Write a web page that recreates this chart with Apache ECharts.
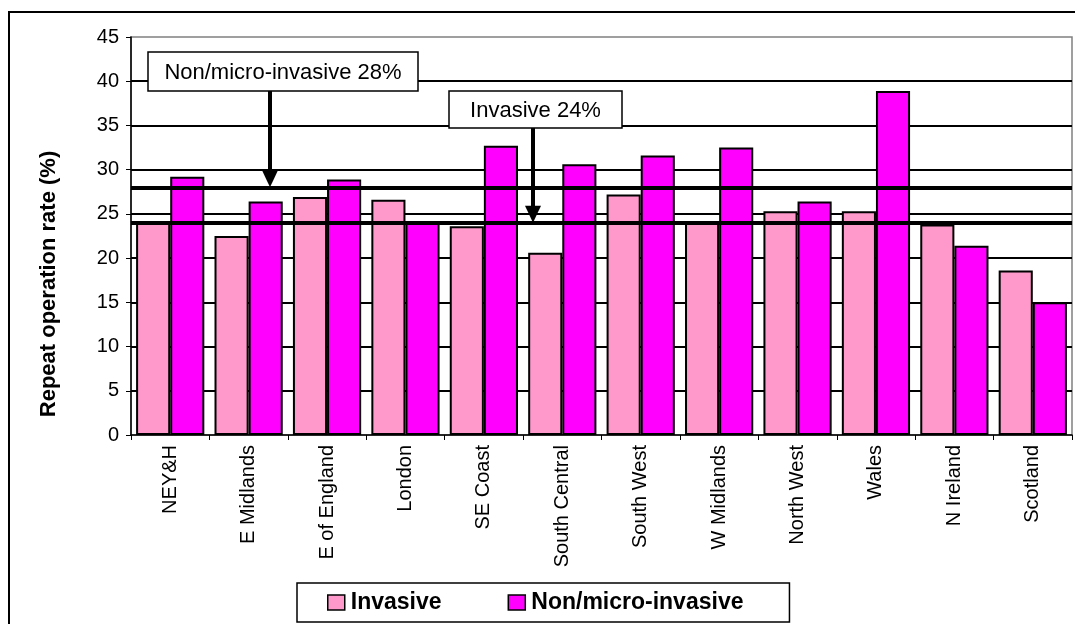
<!DOCTYPE html>
<html>
<head>
<meta charset="utf-8">
<title>Repeat operation rate by region</title>
<script src="https://cdn.jsdelivr.net/npm/echarts@6/dist/echarts.min.js"></script>
<style>
  html, body { margin: 0; padding: 0; background: #fff; }
  #chart { width: 1075px; height: 624px; }
</style>
</head>
<body>
<div id="chart"></div>
<script>
// Regions (category axis)
const categories = ['NEY&H', 'E Midlands', 'E of England', 'London', 'SE Coast', 'South Central',
  'South West', 'W Midlands', 'North West', 'Wales', 'N Ireland', 'Scotland'];

// Repeat operation rate (%) per region
const invasive = [24.0, 22.5, 26.9, 26.6, 23.6, 20.6, 27.2, 24.0, 25.3, 25.3, 23.8, 18.6];
const nonMicroInvasive = [29.2, 26.4, 28.9, 24.0, 32.7, 30.6, 31.6, 32.5, 26.4, 38.9, 21.4, 15.0];

// Overall rates drawn as reference lines
const overallNames = ['Non/micro-invasive', 'Invasive'];
const overallRates = [28, 24];

// Value axis ticks
const yMin = 0, yMax = 45, yStep = 5;

const FONT = '"Liberation Sans", Arial, sans-serif';
const PINK = '#FF99CC';
const MAGENTA = '#FF00FF';

const chart = echarts.init(document.getElementById('chart'), null, { renderer: 'canvas' });

chart.setOption({
  animation: false,
  backgroundColor: '#fff',
  textStyle: { fontFamily: FONT, color: '#000' },
  grid: {
    left: 131, right: 3, top: 37, bottom: 189,
    outerBoundsMode: 'none',
    show: true, borderColor: '#808080', borderWidth: 1.5, backgroundColor: 'transparent'
  },
  legend: {
    data: ['Invasive', 'Non/micro-invasive'],
    left: 297, top: 583,
    orient: 'horizontal',
    padding: [8, 46, 8, 30],
    itemGap: 66,
    itemWidth: 17, itemHeight: 15,
    icon: 'rect',
    borderColor: '#000', borderWidth: 1.5,
    backgroundColor: '#fff',
    itemStyle: { borderColor: '#000', borderWidth: 1.5 },
    textStyle: { fontFamily: FONT, fontSize: 23, fontWeight: 'bold', color: '#000', padding: [0, 0, 0, 1] }
  },
  xAxis: {
    type: 'category',
    data: categories,
    axisLine: { show: true, lineStyle: { color: '#000', width: 1.5 } },
    axisTick: { show: true, alignWithLabel: false, length: 5, lineStyle: { color: '#000', width: 1 } },
    axisLabel: { rotate: 90, margin: 10, fontFamily: FONT, fontSize: 20, color: '#000', interval: 0 },
    splitLine: { show: false }
  },
  yAxis: {
    type: 'value',
    min: yMin, max: yMax, interval: yStep,
    axisLine: { show: true, lineStyle: { color: '#000', width: 1.5 } },
    axisTick: { show: true, length: 5, lineStyle: { color: '#000', width: 1 } },
    axisLabel: { margin: 12, fontFamily: FONT, fontSize: 20, color: '#000' },
    splitLine: { show: true, showMinLine: false, showMaxLine: false, lineStyle: { color: '#000', width: 2 } }
  },
  series: [
    {
      name: 'Invasive',
      type: 'bar',
      data: invasive,
      barGap: '0%',
      barCategoryGap: '13%',
      itemStyle: { color: PINK, borderColor: '#000', borderWidth: 2 }
    },
    {
      name: 'Non/micro-invasive',
      type: 'bar',
      data: nonMicroInvasive,
      barGap: '0%',
      barCategoryGap: '13%',
      itemStyle: { color: MAGENTA, borderColor: '#000', borderWidth: 2 }
    },
    {
      // carries the overall-rate reference lines above the bars
      name: 'overall',
      type: 'line',
      data: [],
      z: 5,
      silent: true,
      markLine: {
        silent: true,
        symbol: 'none',
        label: { show: false },
        lineStyle: { color: '#000', width: 4, type: 'solid' },
        data: overallRates.map(v => ({ yAxis: v }))
      }
    }
  ]
});

// Annotation boxes with arrows pointing at the reference lines
const boxes = [
  { x: 148, y: 52, w: 270, h: 39, arrowX: 270 },
  { x: 449, y: 91, w: 173, h: 37, arrowX: 533 }
];

const graphics = [
  {
    type: 'rect', silent: true, z: 0,
    shape: { x: 9, y: 12, width: 1100, height: 700 },
    style: { fill: 'none', stroke: '#000', lineWidth: 2 }
  },
  {
    type: 'text', silent: true, z: 10,
    x: 49, y: 284, rotation: Math.PI / 2,
    style: {
      text: 'Repeat operation rate (%)',
      font: 'bold 22px ' + FONT,
      fill: '#000', align: 'center', verticalAlign: 'middle'
    }
  }
];

boxes.forEach((b, i) => {
  const tipY = chart.convertToPixel({ yAxisIndex: 0 }, overallRates[i]);
  const headH = 17, headW = 16;
  graphics.push(
    {
      type: 'line', silent: true, z: 100,
      shape: { x1: b.arrowX, y1: b.y + b.h, x2: b.arrowX, y2: tipY - headH + 1 },
      style: { stroke: '#000', lineWidth: 4 }
    },
    {
      type: 'polygon', silent: true, z: 100,
      shape: { points: [[b.arrowX - headW / 2, tipY - headH], [b.arrowX + headW / 2, tipY - headH], [b.arrowX, tipY]] },
      style: { fill: '#000' }
    },
    {
      type: 'rect', silent: true, z: 100,
      shape: { x: b.x, y: b.y, width: b.w, height: b.h },
      style: { fill: '#fff', stroke: '#000', lineWidth: 1.5 }
    },
    {
      type: 'text', silent: true, z: 101,
      x: b.x + b.w / 2, y: b.y + b.h / 2 + 1,
      style: {
        text: overallNames[i] + ' ' + overallRates[i] + '%',
        font: '22px ' + FONT,
        fill: '#000', align: 'center', verticalAlign: 'middle'
      }
    }
  );
});

chart.setOption({ graphic: graphics });
</script>
</body>
</html>
